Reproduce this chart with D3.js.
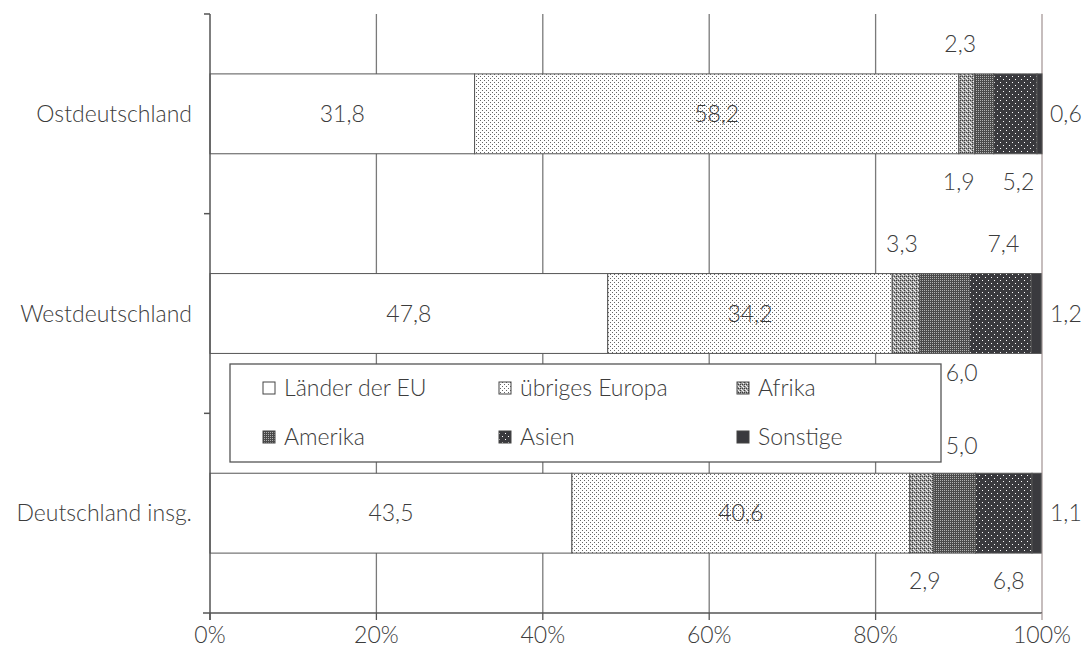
<!DOCTYPE html>
<html>
<head>
<meta charset="utf-8">
<script src="https://cdn.jsdelivr.net/npm/d3@7"></script>
<style>
  html, body { margin: 0; padding: 0; background: #fff; }
  svg text { font-family: Lato, "Noto Sans", sans-serif; font-weight: 300; fill: #3c3c3c; }
</style>
</head>
<body>
<svg id="chart" width="1087" height="659"></svg>
<script>
// Regions (top to bottom) and origin groups
const regions = ["Ostdeutschland", "Westdeutschland", "Deutschland insg."];
const groups = ["Länder der EU", "übriges Europa", "Afrika", "Amerika", "Asien", "Sonstige"];

// Share of each origin group, in percent, per region
const euValues      = [31.8, 47.8, 43.5];
const europeValues  = [58.2, 34.2, 40.6];
const africaValues  = [1.9, 3.3, 2.9];
const americaValues = [2.3, 6.0, 5.0];
const asiaValues    = [5.2, 7.4, 6.8];
const otherValues   = [0.6, 1.2, 1.1];

const xTicks = [0, 20, 40, 60, 80, 100];

const series = [euValues, europeValues, africaValues, americaValues, asiaValues, otherValues];

// Where each value label goes: inside, above, below or right of its bar
const labelPlacement = [
  [["in",0,0],["in",0,0],["below",-8,28],["above",-24,-30],["below",3,28],["right",0,0]],
  [["in",0,0],["in",0,0],["above",-4,-30],["below",17,20],["above",3,-30],["right",0,0]],
  [["in",0,0],["in",0,0],["below",3,28],["above",7,-27],["below",5,28],["right",0,0]]
];

(function draw() {
  const svg = d3.select("#chart");
  const pLeft = 210, pRight = 1042, pTop = 14, pBottom = 613;
  const fs = 23;

  const x = d3.scaleLinear().domain([0, 100]).range([pLeft, pRight]);
  const y = d3.scaleBand().domain(regions).range([pTop, pBottom]).paddingInner(0.6).paddingOuter(0.3);

  // Fill patterns
  const defs = svg.append("defs");
  function pat(id, size, bg, dots) {
    const p = defs.append("pattern").attr("id", id).attr("patternUnits", "userSpaceOnUse")
      .attr("width", size).attr("height", size);
    p.append("rect").attr("width", size).attr("height", size).attr("fill", bg);
    dots.forEach(d => p.append("rect").attr("x", d[0]).attr("y", d[1]).attr("width", 1).attr("height", 1).attr("fill", d[2]));
    return "url(#" + id + ")";
  }
  const fills = [
    "#ffffff",
    pat("pEurope", 4, "#ffffff", [[0, 0, "#666"], [2, 2, "#666"]]),
    pat("pAfrica", 4, "#a0a0a0", [[0, 0, "#3c3c3c"], [2, 0, "#3c3c3c"], [1, 1, "#f4f4f4"], [3, 3, "#f4f4f4"], [0, 2, "#3c3c3c"], [2, 2, "#eeeeee"]]),
    pat("pAmerica", 2, "#4a4a4a", [[0, 0, "#b0b0b0"]]),
    pat("pAsia", 6, "#3a3a3e", [[1, 1, "#ffffff"], [4, 4, "#ffffff"]]),
    "#3a3a3e"
  ];

  // Vertical grid lines
  svg.append("g").selectAll("line").data(xTicks.slice(1)).join("line")
    .attr("x1", d => x(d)).attr("x2", d => x(d))
    .attr("y1", pTop).attr("y2", pBottom)
    .attr("stroke", d => d === 100 ? "#a89a9a" : "#7a7a7a").attr("stroke-width", 1.3);

  // Stacked bars
  const stacked = regions.map((r, i) => {
    let acc = 0;
    return series.map((s, k) => {
      const seg = { region: r, ri: i, k, v: s[i], x0: acc, x1: acc + s[i] };
      acc += s[i];
      return seg;
    });
  });

  const barG = svg.append("g");
  stacked.forEach(row => {
    barG.append("g").selectAll("rect").data(row).join("rect")
      .attr("x", d => x(d.x0))
      .attr("y", d => y(d.region))
      .attr("width", d => Math.min(x(d.x1), pRight) - x(d.x0))
      .attr("height", y.bandwidth())
      .attr("fill", d => fills[d.k])
      .attr("stroke", "#555").attr("stroke-width", 1);
  });

  // Axes
  svg.append("line").attr("x1", pLeft).attr("x2", pLeft).attr("y1", pTop).attr("y2", pBottom + 7)
    .attr("stroke", "#555").attr("stroke-width", 1.5);
  svg.append("line").attr("x1", pLeft - 7).attr("x2", pRight).attr("y1", pBottom).attr("y2", pBottom)
    .attr("stroke", "#555").attr("stroke-width", 1.5);
  const bandEdges = regions.map((r, i) => pTop + i * (pBottom - pTop) / regions.length);
  svg.append("g").selectAll("line").data(bandEdges).join("line")
    .attr("x1", pLeft - 6).attr("x2", pLeft).attr("y1", d => d).attr("y2", d => d)
    .attr("stroke", "#555").attr("stroke-width", 1.5);
  svg.append("g").selectAll("line").data(xTicks).join("line")
    .attr("x1", d => x(d)).attr("x2", d => x(d)).attr("y1", pBottom).attr("y2", pBottom + 7)
    .attr("stroke", d => d === 100 ? "#a89a9a" : "#555").attr("stroke-width", 1.3);

  svg.append("g").selectAll("text").data(xTicks).join("text")
    .attr("x", d => x(d)).attr("y", 643)
    .attr("text-anchor", "middle").attr("font-size", fs)
    .text(d => d + "%");

  svg.append("g").selectAll("text").data(regions).join("text")
    .attr("x", 192).attr("y", d => y(d) + y.bandwidth() / 2 + 8)
    .attr("text-anchor", "end").attr("font-size", fs)
    .text(d => d);

  // Value labels
  const fmt = v => v.toFixed(1).replace(".", ",");
  const labelG = svg.append("g");
  stacked.forEach((row, i) => {
    row.forEach(d => {
      const [mode, dx, dy] = labelPlacement[i][d.k];
      const cy = y(d.region) + y.bandwidth() / 2;
      let lx = x((d.x0 + d.x1) / 2) + dx, ly = cy, anchor = "middle";
      if (mode === "above") ly = y(d.region) + dy;
      if (mode === "below") ly = y(d.region) + y.bandwidth() + dy;
      if (mode === "right") { lx = pRight + 8; anchor = "start"; }
      labelG.append("text").attr("x", lx).attr("y", ly + 8)
        .attr("text-anchor", anchor).attr("font-size", fs)
        .text(fmt(d.v));
    });
  });

  // Legend
  const lg = svg.append("g");
  lg.append("rect").attr("x", 230).attr("y", 364).attr("width", 711).attr("height", 98)
    .attr("fill", "#fff").attr("stroke", "#555").attr("stroke-width", 1.3);
  const colX = [263, 499, 737], rowY = [388, 437];
  groups.forEach((g, k) => {
    const gx = colX[k % 3], gy = rowY[Math.floor(k / 3)];
    lg.append("rect").attr("x", gx).attr("y", gy - 6).attr("width", 12).attr("height", 12)
      .attr("fill", fills[k]).attr("stroke", "#444").attr("stroke-width", 1);
    lg.append("text").attr("x", gx + 21).attr("y", gy + 8).attr("font-size", fs).text(g);
  });
})();
</script>
</body>
</html>
